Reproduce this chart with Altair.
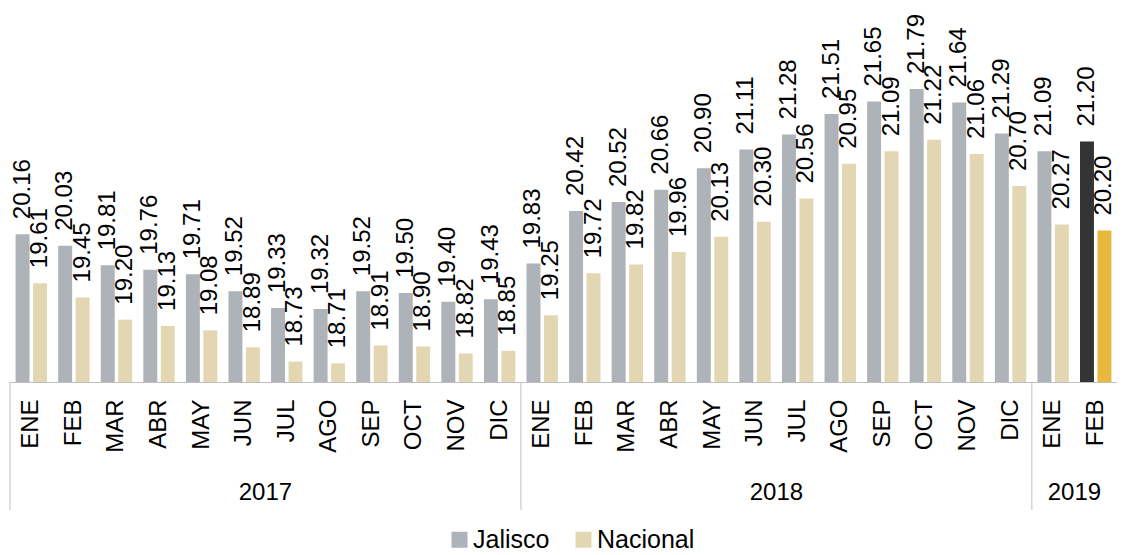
import altair as alt
import pandas as pd

months = ["ENE", "FEB", "MAR", "ABR", "MAY", "JUN", "JUL", "AGO", "SEP", "OCT", "NOV", "DIC"]
years = ["2017"] * 12 + ["2018"] * 12 + ["2019"] * 2
month_labels = months + months + ["ENE", "FEB"]

jalisco = [20.16, 20.03, 19.81, 19.76, 19.71, 19.52, 19.33, 19.32, 19.52, 19.50, 19.40, 19.43,
           19.83, 20.42, 20.52, 20.66, 20.90, 21.11, 21.28, 21.51, 21.65, 21.79, 21.64, 21.29,
           21.09, 21.20]
nacional = [19.61, 19.45, 19.20, 19.13, 19.08, 18.89, 18.73, 18.71, 18.91, 18.90, 18.82, 18.85,
            19.25, 19.72, 19.82, 19.96, 20.13, 20.30, 20.56, 20.95, 21.09, 21.22, 21.06, 20.70,
            20.27, 20.20]

year_names = ["2017", "2018", "2019"]
year_first = ["2017-ENE", "2018-ENE", "2019-ENE"]
year_mid = ["2017-JUL", "2018-JUL", "2019-FEB"]

keys = [f"{y}-{m}" for y, m in zip(years, month_labels)]
rows = []
for i, k in enumerate(keys):
    last = i == len(keys) - 1
    rows.append(dict(key=k, serie="Jalisco", value=jalisco[i],
                     ckey="Jalisco" + (" actual" if last else "")))
    rows.append(dict(key=k, serie="Nacional", value=nacional[i],
                     ckey="Nacional" + (" actual" if last else "")))
df = pd.DataFrame(rows)
sep_df = pd.DataFrame({"key": year_first})
yr_df = pd.DataFrame({"key": year_mid, "year": year_names})

FONT = "Liberation Sans"
W, H = 1107, 374
YMIN = 18.5

xscale = alt.Scale(domain=keys, paddingInner=0, paddingOuter=0)
xaxis = alt.Axis(title=None, labelExpr="split(datum.label, '-')[1]", labelAngle=270,
                 labelFontSize=24, labelFont=FONT, labelColor="#000000", labelPadding=17,
                 ticks=False, domainColor="#bfbfbf", domainWidth=1, grid=False)
yscale = alt.Scale(domain=[YMIN, 22.7], zero=False, nice=False)

x_enc = alt.X("key:N", scale=xscale, axis=xaxis, sort=keys)
xo_enc = alt.XOffset("serie:N", sort=["Jalisco", "Nacional"],
                     scale=alt.Scale(paddingInner=0.2, paddingOuter=0.32))
y_enc = alt.Y("value:Q", scale=yscale, axis=None)

bars = alt.Chart(df).mark_bar().encode(
    x=x_enc, xOffset=xo_enc, y=y_enc, y2=alt.Y2(datum=YMIN),
    color=alt.Color("ckey:N",
                    scale=alt.Scale(domain=["Jalisco", "Nacional", "Jalisco actual", "Nacional actual"],
                                    range=["#adb3b8", "#e3d7b3", "#333436", "#e8b93e"]),
                    legend=alt.Legend(title=None, values=["Jalisco", "Nacional"], orient="none",
                                      direction="horizontal", legendX=437, legendY=519,
                                      symbolType="square", symbolSize=256, symbolStrokeWidth=0,
                                      labelFontSize=25, labelFont=FONT, labelColor="#000000",
                                      labelOffset=1, columnPadding=21)),
)

labels = alt.Chart(df).mark_text(angle=270, align="left", baseline="middle", dx=15,
                                 fontSize=24, font=FONT, color="#000000").encode(
    x=x_enc, xOffset=xo_enc, y=y_enc,
    text=alt.Text("value:Q", format=".2f"),
)

seps = alt.Chart(sep_df).mark_rule(color="#bfbfbf", strokeWidth=1).encode(
    x=alt.X("key:N", scale=xscale, axis=xaxis, sort=keys, bandPosition=0),
    y=alt.value(H),
    y2=alt.value(H + 128),
)

yrs = alt.Chart(yr_df).mark_text(fontSize=24, font=FONT, color="#000000",
                                 baseline="middle", align="center").encode(
    x=alt.X("key:N", scale=xscale, axis=xaxis, sort=keys, bandPosition=0),
    y=alt.value(H + 111),
    text="year:N",
)

chart = alt.layer(bars, labels, seps, yrs).properties(
    width=W, height=H, background="#ffffff",
    autosize=alt.AutoSizeParams(type="none"),
    padding={"left": 2, "top": 0, "right": 0, "bottom": 172},
).configure_view(stroke=None)

chart.save("out.html", embed_options={"renderer": "svg", "actions": False})
